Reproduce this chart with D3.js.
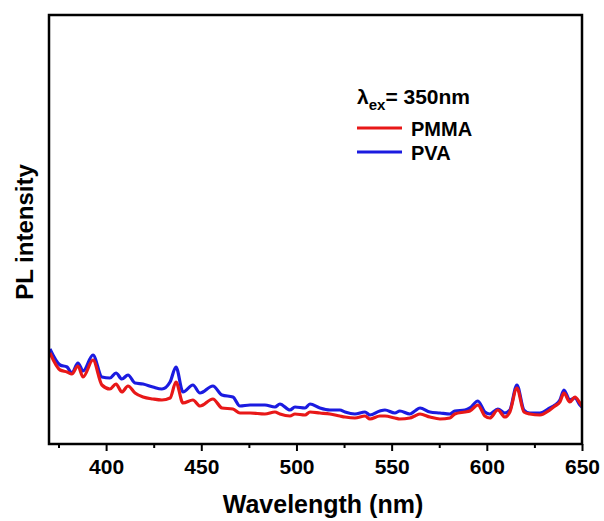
<!DOCTYPE html>
<html>
<head>
<meta charset="utf-8">
<script src="https://cdn.jsdelivr.net/npm/d3@7"></script>
<style>
  body { margin: 0; background: #fff; }
  text { font-family: "Liberation Sans", Arial, sans-serif; font-weight: bold; }
</style>
</head>
<body>
<div id="chart"></div>
<script>
// wavelength grid (nm) shared by both spectra
var wavelength = [370.5, 375.8, 379.5, 382, 385.2, 387.9, 393.1, 397.8, 402, 405.2,
    408.3, 411.5, 415.2, 419.4, 424.6, 429.3, 433.6, 436.7, 440.4, 445.6,
    449.3, 456.1, 460.9, 466.6, 470.3, 475.6, 483.4, 488.7, 491.3, 496.6,
    499.2, 504.5, 507.1, 512.3, 517.6, 522.8, 525.5, 530.7, 536, 538.6,
    543.8, 546.5, 551.7, 554.3, 559.6, 562.2, 564.9, 570.1, 575.4, 580.6,
    583.2, 588.5, 591.1, 595.3, 599, 601.6, 605.8, 609.5, 612.1, 615.8,
    619.5, 622.6, 627.9, 633.1, 635.8, 638.4, 640.5, 643.6, 646.3, 648.9, 650];

var pmma = [91, 74, 72, 70, 78, 67, 84, 59, 55, 60,
    52, 58, 51, 47, 45, 44, 46, 62, 41, 44,
    38, 45, 36, 35, 31, 31, 30, 32, 30, 28,
    30, 29, 32, 31, 30, 28, 27, 26, 28, 25,
    28, 28, 26, 25, 26, 28, 30, 27, 25, 26,
    30, 32, 33, 39, 28, 26, 34, 27, 32, 56,
    32, 30, 29, 34, 38, 42, 51, 42, 47, 41, 38];

var pva = [95, 79, 77, 71, 81, 73, 89, 67, 66, 71,
    65, 69, 61, 60, 57, 55, 62, 77, 52, 59,
    51, 58, 49, 47, 38, 39, 39, 37, 40, 34,
    37, 36, 40, 36, 34, 34, 32, 30, 32, 29,
    33, 34, 31, 33, 30, 33, 36, 32, 31, 30,
    33, 34, 36, 43, 32, 30, 35, 31, 34, 59,
    34, 31, 31, 36, 39, 44, 54, 44, 46, 39, 37];

var xTicks = [400, 450, 500, 550, 600, 650];
var xMinor = [375, 425, 475, 525, 575, 625];

var width = 604, height = 521;
var margin = {left: 49, right: 22, top: 15, bottom: 77};

var svg = d3.select("#chart").append("svg")
    .attr("width", width)
    .attr("height", height);

var x = d3.scaleLinear()
    .domain([370, 650])
    .range([margin.left, width - margin.right]);

var y = d3.scaleLinear()
    .domain([0, 429])
    .range([height - margin.bottom, margin.top]);

var line = d3.line()
    .curve(d3.curveMonotoneX)
    .x(function(d) { return x(d[0]); })
    .y(function(d) { return y(d[1]); });

var series = [
    {name: "PVA", color: "#1b1be0", values: pva},
    {name: "PMMA", color: "#e81818", values: pmma}
];

svg.append("clipPath").attr("id", "clip")
  .append("rect")
    .attr("x", margin.left).attr("y", margin.top)
    .attr("width", width - margin.left - margin.right)
    .attr("height", height - margin.top - margin.bottom);

svg.selectAll(".curve")
    .data(series)
    .enter().append("path")
    .attr("class", "curve")
    .attr("clip-path", "url(#clip)")
    .attr("d", function(s) {
        return line(wavelength.map(function(w, i) { return [w, s.values[i]]; }));
    })
    .style("fill", "none")
    .style("stroke", function(s) { return s.color; })
    .style("stroke-width", 3.2)
    .style("stroke-linejoin", "round");

// bottom axis with major + minor ticks
var xAxis = svg.append("g")
    .attr("transform", "translate(0," + y(0) + ")")
    .call(d3.axisBottom(x).tickValues(xTicks).tickSize(7).tickPadding(8).tickFormat(d3.format("d")));
xAxis.select(".domain").remove();
xAxis.selectAll(".tick line").style("stroke", "#000").style("stroke-width", 2);
xAxis.selectAll(".tick text").style("font-size", "21px").style("fill", "#000");

var minor = svg.append("g")
    .attr("transform", "translate(0," + y(0) + ")")
    .call(d3.axisBottom(x).tickValues(xMinor).tickSize(4).tickFormat(""));
minor.select(".domain").remove();
minor.selectAll(".tick line").style("stroke", "#000").style("stroke-width", 2);

// frame
svg.append("rect")
    .attr("x", x(370)).attr("y", y(429))
    .attr("width", x(650) - x(370))
    .attr("height", y(0) - y(429))
    .style("fill", "none")
    .style("stroke", "#000")
    .style("stroke-width", 2.5);

svg.append("text")
    .attr("x", 323).attr("y", 513)
    .attr("text-anchor", "middle")
    .style("font-size", "25px")
    .text("Wavelength (nm)");

svg.append("text")
    .attr("transform", "translate(33,232) rotate(-90)")
    .attr("text-anchor", "middle")
    .style("font-size", "24px")
    .text("PL intensity");

// legend
var lam = svg.append("text")
    .attr("x", 357).attr("y", 104)
    .style("font-size", "21px");
lam.append("tspan").text("λ");
lam.append("tspan").attr("dy", 6).style("font-size", "15px").text("ex");
lam.append("tspan").attr("dy", -6).text("= 350nm");

var leg = svg.selectAll(".leg")
    .data(series.slice().reverse())
    .enter().append("g")
    .attr("class", "leg")
    .attr("transform", function(d, i) { return "translate(357," + (128 + i * 24) + ")"; });

leg.append("line")
    .attr("x1", 0).attr("x2", 45)
    .style("stroke", function(d) { return d.color; })
    .style("stroke-width", 3);

leg.append("text")
    .attr("x", 54).attr("y", 8)
    .style("font-size", "20px")
    .text(function(d) { return d.name; });
</script>
</body>
</html>
